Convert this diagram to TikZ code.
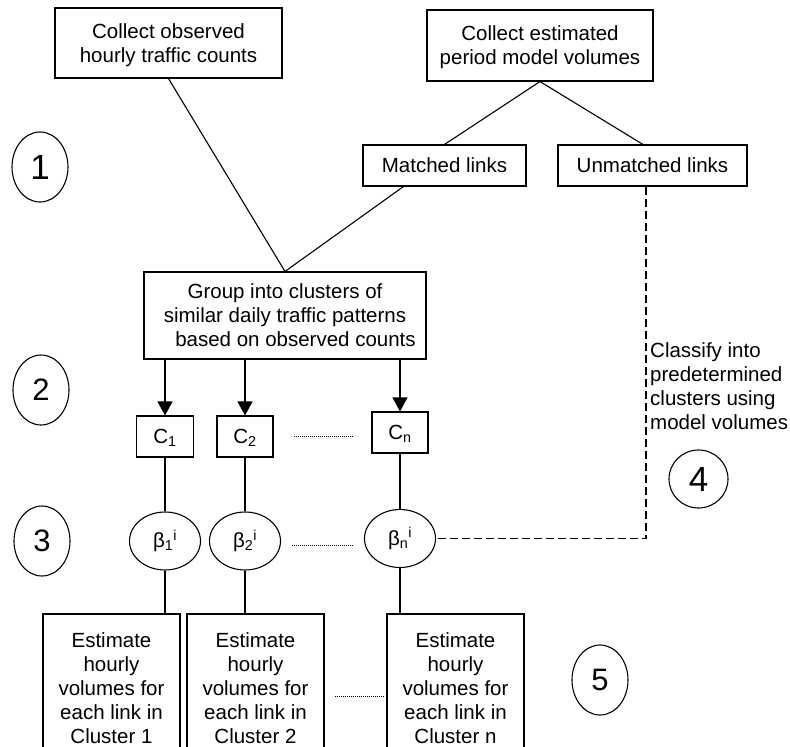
\documentclass[tikz,border=0pt]{standalone}
\usepackage{fontspec}
\setmainfont{Liberation Sans}
\usetikzlibrary{shapes.geometric,arrows.meta,calc}
\tikzset{
  box/.style={draw, line width=1.1pt, align=center, inner sep=0pt, text depth=-4pt},
  stepno/.style={draw, ellipse, line width=1.1pt, inner sep=0pt,
    minimum width=56pt, minimum height=70pt, font=\fontsize{31}{31}\selectfont},
  coef/.style={draw, ellipse, line width=1.1pt, inner sep=0pt,
    minimum width=71pt, minimum height=58pt},
  link/.style={line width=1.1pt},
  dots/.style={line width=0.7pt, dash pattern=on 0.7pt off 1.3pt},
}
\begin{document}
\begin{tikzpicture}[x=1pt, y=-1pt,
    every node/.style={font=\fontsize{20.5}{24}\selectfont}]
  \useasboundingbox (0,0) rectangle (790,747);
  \clip (0,0) rectangle (790,747);
  % inputs
  \node[box, minimum width=227pt, minimum height=70pt] (counts) at (168.5,43)
    {Collect observed\\hourly traffic counts};
  \node[box, minimum width=226pt, minimum height=71pt] (volumes) at (540,45.5)
    {Collect estimated\\period model volumes};
  \node[box, minimum width=163pt, minimum height=41pt] (matched) at (444.5,165.5) {Matched links};
  \node[box, minimum width=189pt, minimum height=41pt] (unmatched) at (652.5,165.5) {Unmatched links};
  \node[box, minimum width=282pt, minimum height=87pt] (group) at (285,315.5)
    {Group into clusters of\\similar daily traffic patterns\\\hspace*{21pt}based on observed counts};
  % clusters
  \node[box, minimum width=57pt, minimum height=41pt] (c1) at (165,436.5) {C\textsubscript{1}};
  \node[box, minimum width=56pt, minimum height=41pt] (c2) at (245,436.5) {C\textsubscript{2}};
  \node[box, minimum width=56pt, minimum height=41pt] (cn) at (400,432.5) {C\textsubscript{n}};
  \node[coef] (b1) at (165,541) {β\textsubscript{1}\textsuperscript{i}};
  \node[coef] (b2) at (245,541) {β\textsubscript{2}\textsuperscript{i}};
  \node[coef] (bn) at (400,538.5) {β\textsubscript{n}\textsuperscript{i}};
  \node[box, text depth=0pt, minimum width=137pt, minimum height=149pt] (est1) at (111.5,688.5)
    {Estimate\\hourly\\volumes for\\each link in\\Cluster 1};
  \node[box, text depth=0pt, minimum width=137pt, minimum height=149pt] (est2) at (255.5,688.5)
    {Estimate\\hourly\\volumes for\\each link in\\Cluster 2};
  \node[box, text depth=0pt, minimum width=137pt, minimum height=149pt] (est3) at (455.5,688.5)
    {Estimate\\hourly\\volumes for\\each link in\\Cluster n};
  \node[align=left, anchor=west, inner sep=0pt, font=\fontsize{20.5}{24}\selectfont]
    (classify) at (650,386) {Classify into\\predetermined\\clusters using\\model volumes};
  % step numbers
  \node[stepno, font=\fontsize{35}{35}\selectfont] (s1) at (40,167) {1};
  \node[stepno] (s2) at (41,390) {2};
  \node[stepno] (s3) at (42,541) {3};
  \node[stepno, minimum width=59pt, minimum height=58pt, font=\fontsize{35}{35}\selectfont] (s4) at (698.5,479) {4};
  \node[stepno] (s5) at (600,680) {5};
  % connectors
  \draw[link] (counts.south) -- (group.north);
  \draw[link] ($(matched.south west)!.25!(matched.south east)$) -- (group.north);
  \draw[link] (volumes.south) -- (matched.north);
  \draw[link] (volumes.south) -- ($(unmatched.north west)!.45!(unmatched.north east)$);
  \coordinate (bend) at (646,538.5);
  \draw[link, dash pattern=on 8pt off 4pt] (unmatched.south -| bend) -- (bend) -- (bn.east);
  \foreach \c in {c1,c2,cn}
    \draw[link, -{Triangle[length=14pt,width=15pt]}] (group.south -| \c.north) -- (\c.north);
  \foreach \i in {1,2,n}
    \draw[link] (c\i) -- (b\i);
  \draw[link] (b1.south) -- (b1.south |- est1.north);
  \draw[link] (b2.south) -- (b2.south |- est2.north);
  \draw[link] (bn.south) -- (bn.south |- est3.north);
  \draw[dots, shorten <=20pt, shorten >=18pt] (c2.east) -- (c2.east -| cn.west);
  \draw[dots, shorten <=11pt, shorten >=11pt] ([yshift=-4pt]b2.east) -- ([yshift=-4pt]b2.east -| bn.west);
  \draw[dots, shorten <=10pt, shorten >=3pt] ([yshift=-8pt]est2.east) -- ([yshift=-8pt]est2.east -| est3.west);
\end{tikzpicture}
\end{document}
